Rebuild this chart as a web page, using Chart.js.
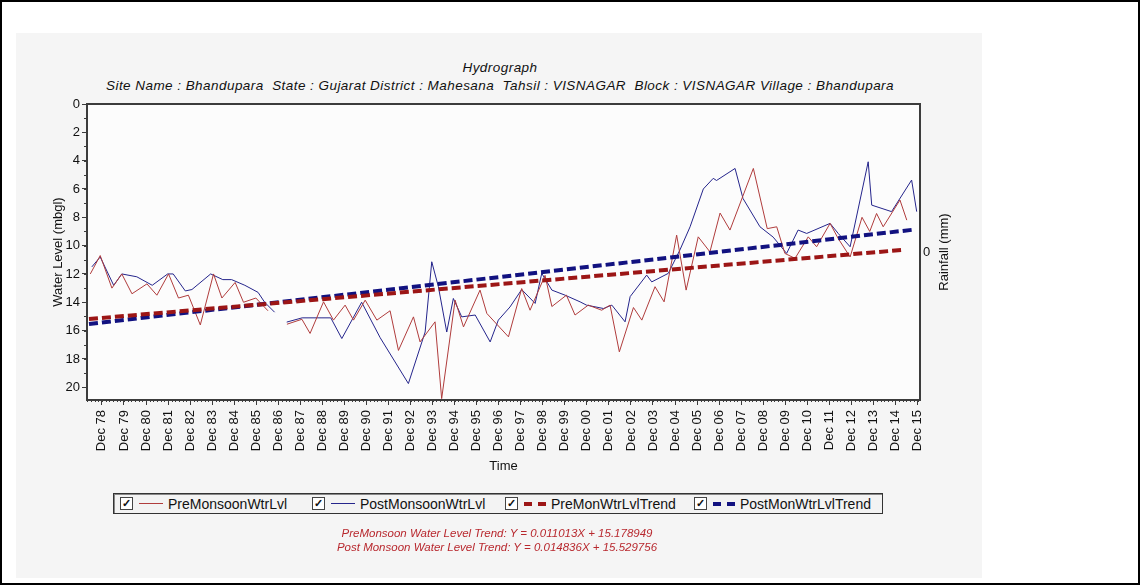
<!DOCTYPE html>
<html>
<head>
<meta charset="utf-8">
<script src="https://cdn.jsdelivr.net/npm/chart.js@4"></script>
<style>
  body { margin: 0; width: 1140px; height: 585px; background: #fff; font-family: "Liberation Sans", Arial, sans-serif; overflow: hidden; }
  #frame { position: absolute; left: 0; top: 0; width: 1140px; height: 585px; box-sizing: border-box; border: 2px solid #000; }
  #panel { position: absolute; left: 16px; top: 33px; width: 966px; height: 545px; background: #f5f5f5; }
  .ttl { position: absolute; left: 0; width: 1000px; text-align: center; font-style: italic; font-size: 13.5px; letter-spacing: 0.45px; color: #111; }
  #wrap { position: absolute; left: 0; top: 0; width: 1140px; height: 585px; }
  #rainTitle { position: absolute; left: 943px; top: 252px; transform: translate(-50%, -50%) rotate(-90deg); font-size: 13px; color: #111; white-space: nowrap; }
  #rainZero { position: absolute; left: 923px; top: 244px; font-size: 13px; color: #111; }
  #legend { position: absolute; left: 113px; top: 493px; width: 768px; height: 19px; border: 1px solid #333; box-shadow: inset 1px 1px 0 #888; background: #f3f3f3; }
  .item { position: absolute; top: 0; height: 19px; display: flex; align-items: center; font-size: 14px; color: #111; white-space: nowrap; }
  .cb { width: 11px; height: 11px; border: 1px solid #444; background: #fff; font-size: 11px; line-height: 11px; text-align: center; font-weight: bold; margin-right: 6px; }
  .smp { width: 24px; margin-right: 5px; }
  .trend { position: absolute; left: 0; width: 994px; text-align: center; font-style: italic; font-size: 11.5px; color: #b8282e; }
</style>
</head>
<body>
<div id="frame"></div>
<div id="panel"></div>
<div class="ttl" style="top:60px">Hydrograph</div>
<div class="ttl" style="top:78px">Site Name : Bhandupara&nbsp; State : Gujarat District : Mahesana&nbsp; Tahsil : VISNAGAR&nbsp; Block : VISNAGAR Village : Bhandupara</div>
<div id="wrap"><canvas id="hydro" width="1140" height="585"></canvas></div>
<div id="rainZero">0</div>
<div id="rainTitle">Rainfall (mm)</div>
<div id="legend"></div>
<div class="trend" style="top:527px">PreMonsoon Water Level Trend: Y = 0.011013X + 15.178949</div>
<div class="trend" style="top:541px">Post Monsoon Water Level Trend: Y = 0.014836X + 15.529756</div>
<script>
// tiempo en años decimales, nivel en mbgl (null = hueco en la serie)
var preTime = [1978.39, 1978.84, 1979.37, 1979.82, 1980.28, 1980.96, 1981.41, 1981.94, 1982.39, 1982.84,
  1983.38, 1983.98, 1984.36, 1984.96, 1985.34, 1985.9, 1986.45, 1986.9,
  1987.31, 1987.99, 1988.36, 1988.97, 1989.42, 1989.95, 1990.33, 1990.86, 1991.39, 1991.99,
  1992.37, 1993.05, 1993.35, 1994.03, 1994.33, 1994.94, 1995.32, 1996.07, 1996.38, 1997.36,
  1997.96, 1998.34, 1999.02, 1999.33, 1999.99, 2000.38, 2000.98, 2001.59, 2001.97, 2002.39,
  2003.03, 2003.41, 2004.01, 2004.42, 2004.99, 2005.42, 2005.97, 2006.5, 2006.96, 2007.41,
  2008.47, 2009.1, 2009.53, 2009.9, 2010.36, 2010.96, 2011.34, 2011.95, 2012.32, 2012.86,
  2013.4, 2013.75, 2014.06, 2014.36, 2015.12, 2015.43];
var preLevel = [12.0, 10.7, 13.0, 12.0, 13.4, 12.7, 13.5, 12.0, 13.7, 13.5,
  15.6, 12.0, 13.7, 12.6, 14.0, 13.7, 14.6, null,
  15.55, 15.2, 16.2, 13.97, 15.26, 14.2, 15.26, 13.85, 15.26, 14.6,
  17.4, 15.03, 16.8, 15.38, 20.8, 13.85, 15.74, 13.14, 14.79, 16.44,
  13.03, 14.56, 12.1, 14.3, 13.5, 14.9, 14.2, 14.56, 14.2, 17.5,
  14.37, 15.26, 12.9, 13.97, 9.26, 13.14, 9.38, 10.44, 7.7, 8.9,
  4.55, 8.8, 8.67, 10.55, 10.9, 9.38, 10.08, 8.43, 9.5, 10.8,
  8.0, 9.0, 7.73, 8.67, 6.78, 8.2];

var postTime = [1978.46, 1978.84, 1979.45, 1979.82, 1980.5, 1981.2, 1981.9, 1982.15, 1982.7, 1983.0,
  1983.85, 1984.4, 1984.8, 1985.4, 1986.0, 1986.3, 1986.75, 1987.0,
  1987.3, 1988.0, 1988.9, 1989.3, 1989.8, 1990.7, 1991.54, 1992.82, 1993.58, 1993.88,
  1994.18, 1994.56, 1994.86, 1995.24, 1995.85, 1996.53, 1996.9, 1997.43, 1997.96, 1998.57,
  1998.87, 1999.33, 1999.93, 2000.61, 2000.9, 2001.67, 2002.05, 2002.65, 2002.88, 2003.63,
  2003.86, 2004.61, 2005.14, 2005.6, 2006.2, 2006.65, 2006.8, 2007.64, 2008.0, 2008.77,
  2009.37, 2009.98, 2010.5, 2010.89, 2011.95, 2012.32, 2012.86, 2013.68, 2013.84, 2014.74,
  2015.65, 2015.88];
var postLevel = [11.5, 10.8, 12.8, 12.0, 12.2, 12.8, 12.0, 12.0, 13.2, 13.1,
  12.0, 12.4, 12.4, 12.8, 13.3, 14.0, 14.7, null,
  15.4, 15.1, 15.1, 15.1, 16.56, 14.0, 16.5, 19.74, 16.1, 11.14,
  12.9, 16.1, 13.73, 15.03, 14.9, 16.8, 15.26, 14.33, 13.1, 14.08,
  11.96, 13.14, 13.5, 13.97, 14.2, 14.44, 14.2, 15.38, 13.6, 12.08,
  12.56, 11.96, 10.3, 8.67, 6.0, 5.25, 5.4, 4.55, 6.67, 8.67,
  9.4, 10.55, 8.9, 9.14, 8.43, 9.14, 10.08, 4.08, 7.14, 7.6,
  5.37, 7.6];

// líneas de tendencia: extremos
var preTrendTime = [1978.33, 2015.33];
var preTrendLevel = [15.18, 10.29];
var postTrendTime = [1978.33, 2015.75];
var postTrendLevel = [15.53, 8.87];

// ejes
var xTickPos = [];
var xTickLabels = ['Dec 78', 'Dec 79', 'Dec 80', 'Dec 81', 'Dec 82', 'Dec 83', 'Dec 84', 'Dec 85', 'Dec 86', 'Dec 87',
  'Dec 88', 'Dec 89', 'Dec 90', 'Dec 91', 'Dec 92', 'Dec 93', 'Dec 94', 'Dec 95', 'Dec 96', 'Dec 97',
  'Dec 98', 'Dec 99', 'Dec 00', 'Dec 01', 'Dec 02', 'Dec 03', 'Dec 04', 'Dec 05', 'Dec 06', 'Dec 07',
  'Dec 08', 'Dec 09', 'Dec 10', 'Dec 11', 'Dec 12', 'Dec 13', 'Dec 14', 'Dec 15'];
for (var i = 0; i < xTickLabels.length; i++) xTickPos.push(1978 + i + 11 / 12);
var yTicks = [0, 2, 4, 6, 8, 10, 12, 14, 16, 18, 20];

var seriesNames = ['PreMonsoonWtrLvl', 'PostMonsoonWtrLvl', 'PreMonWtrLvlTrend', 'PostMonWtrLvlTrend'];
var colPre = '#b03c3c', colPost = '#25258c', colPreTrend = '#9c1616', colPostTrend = '#121280';

function pts(t, v) {
  return t.map(function (x, i) { return { x: x, y: v[i] }; });
}

var fontTick = { family: 'Liberation Sans', size: 13 };

// marco del área de dibujo y marcas menores
var frameTicks = {
  id: 'frameTicks',
  beforeDatasetsDraw: function (chart) {
    var a = chart.chartArea, c = chart.ctx;
    c.save();
    c.fillStyle = '#fcfcfc';
    c.fillRect(a.left, a.top, a.right - a.left, a.bottom - a.top);
    c.restore();
  },
  afterDraw: function (chart) {
    var a = chart.chartArea, c = chart.ctx, sx = chart.scales.x, sy = chart.scales.y;
    c.save();
    c.strokeStyle = '#3c3c3c';
    c.lineWidth = 1;
    c.beginPath();
    for (var m = 1978.25; m < sx.max; m += 1 / 6) {
      var px = Math.round(sx.getPixelForValue(m)) + 0.5;
      c.moveTo(px, a.bottom); c.lineTo(px, a.bottom + 2);
    }
    for (var v = 1; v < 21; v += 1) {
      var py = Math.round(sy.getPixelForValue(v)) + 0.5;
      c.moveTo(a.left - 3, py); c.lineTo(a.left, py);
    }
    c.stroke();
    c.lineWidth = 2;
    c.strokeRect(a.left, a.top, a.right - a.left, a.bottom - a.top);
    c.restore();
  }
};

var ctx = document.getElementById('hydro').getContext('2d');
var hydroChart = new Chart(ctx, {
  type: 'line',
  data: {
    datasets: [
      { label: seriesNames[2], data: pts(preTrendTime, preTrendLevel), borderColor: colPreTrend, borderWidth: 4, borderDash: [9, 4], pointRadius: 0 },
      { label: seriesNames[3], data: pts(postTrendTime, postTrendLevel), borderColor: colPostTrend, borderWidth: 4, borderDash: [9, 4], pointRadius: 0 },
      { label: seriesNames[0], data: pts(preTime, preLevel), borderColor: colPre, borderWidth: 1, pointRadius: 0, spanGaps: false },
      { label: seriesNames[1], data: pts(postTime, postLevel), borderColor: colPost, borderWidth: 1, pointRadius: 0, spanGaps: false }
    ]
  },
  options: {
    responsive: false,
    animation: false,
    layout: { padding: { left: 47, right: 220, top: 104, bottom: 107 } },
    plugins: { legend: { display: false }, title: { display: false }, tooltip: { enabled: false } },
    scales: {
      x: {
        type: 'linear', min: 1978.24, max: 2016.03,
        afterBuildTicks: function (s) { s.ticks = xTickPos.map(function (v) { return { value: v }; }); },
        afterFit: function (s) { s.height = 78; },
        ticks: {
          autoSkip: false, minRotation: 90, maxRotation: 90, padding: 5, color: '#111', font: fontTick,
          callback: function (v, i) { return xTickLabels[i]; }
        },
        grid: { drawOnChartArea: false, tickLength: 5, color: '#3c3c3c' },
        border: { display: false },
        title: { display: true, text: 'Time', color: '#111', font: fontTick, padding: { top: 2, bottom: 4 } }
      },
      y: {
        reverse: true, min: 0, max: 20.9,
        afterBuildTicks: function (s) { s.ticks = yTicks.map(function (v) { return { value: v }; }); },
        afterFit: function (s) { s.width = 40; },
        ticks: { padding: 2, color: '#111', font: fontTick },
        grid: { drawOnChartArea: false, tickLength: 5, color: '#3c3c3c' },
        border: { display: false },
        title: { display: true, text: 'Water Level (mbgl)', color: '#111', font: fontTick, padding: { top: 4, bottom: 2 } }
      }
    }
  },
  plugins: [frameTicks]
});

// leyenda con casillas
var legendLeft = [6, 198, 391, 580];
var legendCols = [colPre, colPost, colPreTrend, colPostTrend];
var lg = document.getElementById('legend');
seriesNames.forEach(function (name, i) {
  var it = document.createElement('div');
  it.className = 'item';
  it.style.left = legendLeft[i] + 'px';
  var cb = document.createElement('span');
  cb.className = 'cb';
  cb.textContent = '\u2713';
  var smp = document.createElement('span');
  smp.className = 'smp';
  if (i < 2) smp.style.borderTop = '1px solid ' + legendCols[i];
  else { smp.style.borderTop = '4px dashed ' + legendCols[i]; smp.style.width = '22px'; }
  it.appendChild(cb);
  it.appendChild(smp);
  it.appendChild(document.createTextNode(name));
  lg.appendChild(it);
});
</script>
</body>
</html>
